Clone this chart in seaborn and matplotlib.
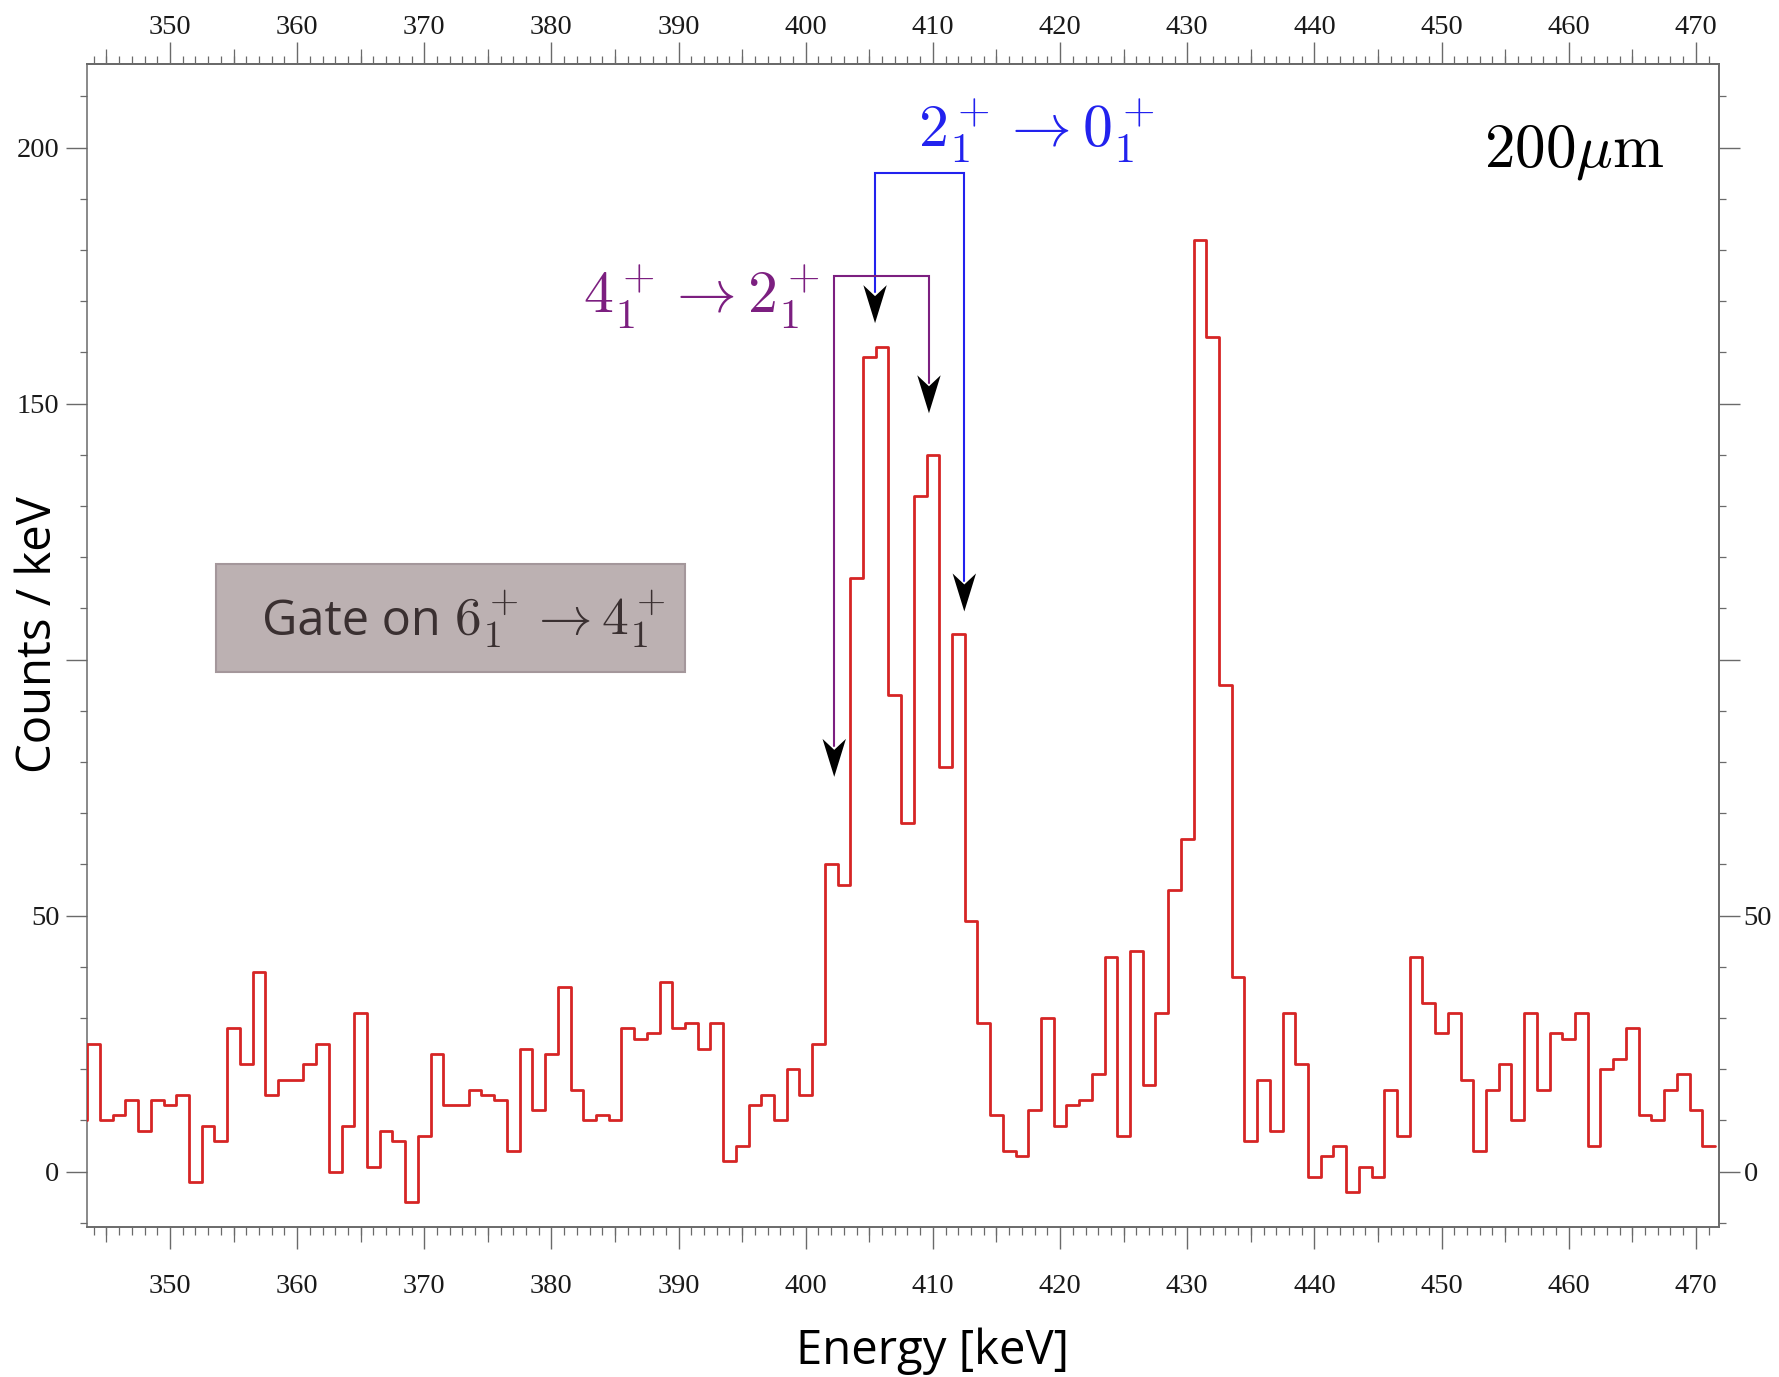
import numpy as np
import pandas as pd
import matplotlib
matplotlib.use("Agg")
import matplotlib.pyplot as plt
import matplotlib.transforms as mtransforms
from matplotlib.patches import Polygon, Rectangle
from matplotlib.ticker import MultipleLocator, NullLocator
import seaborn as sns

# ---------------- data ----------------
energy_keV = np.arange(343, 472)          # bin centres (1 keV bins)
counts = [
    10, 25, 10, 11, 14, 8, 14, 13, 15, -2,          # 343-352
    9, 6, 28, 21, 39, 15, 18, 18, 21, 25,           # 353-362
    0, 9, 31, 1, 8, 6, -6, 7, 23, 13,               # 363-372
    13, 16, 15, 14, 4, 24, 12, 23, 36, 16,          # 373-382
    10, 11, 10, 28, 26, 27, 37, 28, 29, 24,         # 383-392
    29, 2, 5, 13, 15, 10, 20, 15, 25, 60,           # 393-402
    56, 116, 159, 161, 93, 68, 132, 140, 79, 105,   # 403-412
    49, 29, 11, 4, 3, 12, 30, 9, 13, 14,            # 413-422
    19, 42, 7, 43, 17, 31, 55, 65, 182, 163,        # 423-432
    95, 38, 6, 18, 8, 31, 21, -1, 3, 5,             # 433-442
    -4, 1, -1, 16, 7, 42, 33, 27, 31, 18,           # 443-452
    4, 16, 21, 10, 31, 16, 27, 26, 31, 5,           # 453-462
    20, 22, 28, 11, 10, 16, 19, 12, 5,              # 463-471
]
x_major_ticks = [350, 360, 370, 380, 390, 400, 410, 420, 430, 440, 450, 460, 470]
x_mid_ticks = [345, 355, 365, 375, 385, 395, 405, 415, 425, 435, 445, 455, 465]
y_major_ticks = [0, 50, 100, 150, 200]
y_left_labels = ["0", "50", "", "150", "200"]
y_right_labels = ["0", "50", "", "", ""]

# transitions: (x_left, x_right, y_top, tip_left, tip_right)
trans_21_01 = (405.45, 412.47, 195.0, 165.7, 109.4)
trans_41_21 = (402.24, 409.69, 175.0, 77.1, 148.1)

df = pd.DataFrame({"energy": energy_keV, "counts": np.asarray(counts, dtype=float)})

# ---------------- style ----------------
sns.set_theme(style="ticks")
plt.rcParams["font.family"] = ["Liberation Serif", "DejaVu Serif"]
plt.rcParams["mathtext.fontset"] = "cm"

W, H, DPI = 1779, 1377, 100
fig = plt.figure(figsize=(W / DPI, H / DPI), dpi=DPI)
ax = fig.add_axes([87.3 / W, 1 - 1227 / H, (1718.5 - 87.3) / W, (1227 - 64.3) / H])
ax.set_facecolor("white")
fig.patch.set_facecolor("white")

red = "#d62525"
blue = "#2222ee"
purple = "#7c1f80"
spine_c = "#6a6a6a"
lab_c = "#1a1a1a"
tick_fs = 20.5

edges = [float(e) for e in np.arange(energy_keV.min() - 0.5, energy_keV.max() + 1.0, 1.0)]
sns.histplot(data=df, x="energy", weights="counts", bins=edges, element="step",
             fill=False, color=red, linewidth=2.0, ax=ax, zorder=3)

ax.set_xlim(343.5, 471.78)
ax.set_ylim(-10.8, 216.25)

for s in ax.spines.values():
    s.set_color(spine_c)
    s.set_linewidth(1.1)

# bottom x axis
ax.set_xticks(x_major_ticks)
ax.set_xticklabels([str(t) for t in x_major_ticks])
ax.xaxis.set_minor_locator(MultipleLocator(1))
ax.tick_params(axis="x", which="major", direction="out", length=16, width=1.0,
               color=spine_c, pad=18, labelsize=tick_fs, labelcolor=lab_c)
ax.tick_params(axis="x", which="minor", direction="out", length=5.8, width=0.9,
               color=spine_c)
mid_bot = ax.secondary_xaxis("bottom")
mid_bot.set_xticks(x_mid_ticks)
mid_bot.set_xticklabels([])
mid_bot.xaxis.set_minor_locator(NullLocator())
mid_bot.tick_params(axis="x", direction="out", length=10.8, width=0.9, color=spine_c)
mid_bot.spines["bottom"].set_color(spine_c)

# top x axis
top = ax.secondary_xaxis("top")
top.set_xticks(x_major_ticks)
top.set_xticklabels([str(t) for t in x_major_ticks])
top.xaxis.set_minor_locator(MultipleLocator(1))
top.tick_params(axis="x", which="major", direction="out", length=16, width=1.0,
                color=spine_c, pad=1.5, labelsize=tick_fs, labelcolor=lab_c)
top.tick_params(axis="x", which="minor", direction="out", length=5.8, width=0.9,
                color=spine_c)
top.spines["top"].set_color(spine_c)
mid_top = ax.secondary_xaxis("top")
mid_top.set_xticks(x_mid_ticks)
mid_top.set_xticklabels([])
mid_top.xaxis.set_minor_locator(NullLocator())
mid_top.tick_params(axis="x", direction="out", length=10.8, width=0.9, color=spine_c)
mid_top.spines["top"].set_color(spine_c)

# left y axis
ax.set_yticks(y_major_ticks)
ax.set_yticklabels(y_left_labels)
ax.yaxis.set_minor_locator(MultipleLocator(10))
ax.tick_params(axis="y", which="major", direction="out", length=15, width=1.0,
               color=spine_c, pad=5, labelsize=tick_fs, labelcolor=lab_c)
ax.tick_params(axis="y", which="minor", direction="out", length=5, width=0.9,
               color=spine_c)

# right y axis
right = ax.secondary_yaxis("right")
right.set_yticks(y_major_ticks)
right.set_yticklabels(y_right_labels)
right.yaxis.set_minor_locator(MultipleLocator(10))
right.tick_params(axis="y", which="major", direction="out", length=15, width=1.0,
                  color=spine_c, pad=3, labelsize=tick_fs, labelcolor=lab_c)
right.tick_params(axis="y", which="minor", direction="out", length=5, width=0.9,
                  color=spine_c)
right.spines["right"].set_color(spine_c)

# axis labels
ax.set_xlabel("Energy [keV]", family=["Open Sans", "DejaVu Sans"], fontsize=34,
              color="black")
ax.xaxis.set_label_coords(0.518, -0.1066)
ax.xaxis.label.set_va("center")
ax.set_ylabel("Counts / keV", family=["Open Sans", "DejaVu Sans"], fontsize=34,
              color="black")
ax.yaxis.set_label_coords(-0.0300, 0.5096)
ax.yaxis.label.set_va("center")


# ---------------- annotations ----------------
def arrow_head(xd, yd):
    tr = fig.dpi_scale_trans + mtransforms.ScaledTranslation(xd, yd, ax.transData)
    verts = np.array([[0, 0], [-11.7, 38], [0, 27], [11.7, 38]]) / DPI
    ax.add_patch(Polygon(verts, closed=True, transform=tr, facecolor="black",
                         edgecolor="none", zorder=6, clip_on=False))


def bracket(spec, color):
    xl, xr, yt, tl, trr = spec
    ax.plot([xl, xl, xr, xr], [tl + 6, yt, yt, trr + 6], color=color, lw=1.5,
            zorder=5, solid_joinstyle="miter")
    arrow_head(xl, tl)
    arrow_head(xr, trr)


bracket(trans_21_01, blue)
bracket(trans_41_21, purple)

ax.text(418.1, 200.0, r"$2_1^+\rightarrow 0_1^+$", color=blue, fontsize=43,
        ha="center", va="baseline", zorder=7)
ax.text(391.8, 167.5, r"$4_1^+\rightarrow 2_1^+$", color=purple, fontsize=43,
        ha="center", va="baseline", zorder=7)
ax.text(460.4, 196.3, r"$200\mu\mathrm{m}$", color="black", fontsize=44,
        ha="center", va="baseline", zorder=7)

ax.add_patch(Rectangle((353.59, 97.6), 36.94, 21.1, facecolor="#bcb1b2",
                       edgecolor="#a4979b", linewidth=1.5, zorder=4))
ax.text(357.2, 104.8, "Gate on", family=["Open Sans", "DejaVu Sans"], fontsize=35,
        color="#3a3031", ha="left", va="baseline", zorder=7)
ax.text(372.3, 104.8, r"$6_1^+\rightarrow 4_1^+$", fontsize=38.5, color="#3a3031",
        ha="left", va="baseline", zorder=7)

ax.set_xlim(343.5, 471.78)
ax.set_ylim(-10.8, 216.25)

fig.savefig("out.png", dpi=DPI, facecolor="white")
